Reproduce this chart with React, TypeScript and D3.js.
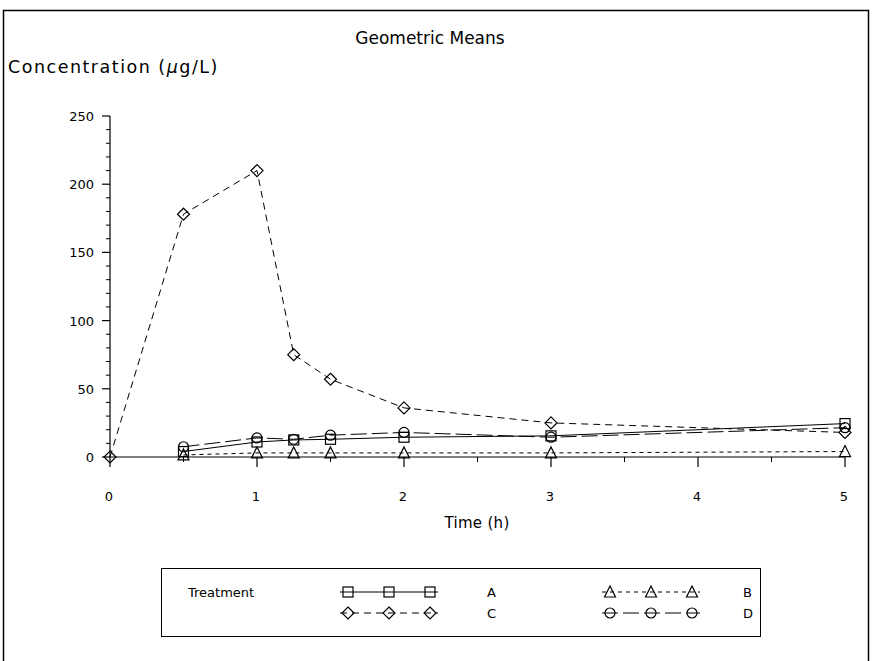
import React from "react";
import * as d3 from "d3";

const timesC = [0, 0.5, 1, 1.25, 1.5, 2, 3, 5];
const timesABD = [0.5, 1, 1.25, 1.5, 2, 3, 5];
const seriesA = [4, 11, 12.5, 13, 14.5, 15.5, 24.5];
const seriesB = [1.5, 3, 3, 3, 3, 3, 4];
const seriesC = [0, 178, 210, 75, 57, 36, 25, 18];
const seriesD = [7.5, 14, 13, 16, 18, 14.5, 21.5];
const xTicks = [0, 1, 2, 3, 4, 5];
const yTicks = [0, 50, 100, 150, 200, 250];
const labels = { A: "A", B: "B", C: "C", D: "D" };

const FONT = "'DejaVu Sans', 'Noto Sans', sans-serif";

type Key = "A" | "B" | "C" | "D";
const styles: Record<Key, { dash: string; marker: string }> = {
  A: { dash: "", marker: "square" },
  B: { dash: "4,4", marker: "triangle" },
  C: { dash: "7,5", marker: "diamond" },
  D: { dash: "16,5", marker: "circle" },
};

function Marker({ type, x, y }: { type: string; x: number; y: number }) {
  const common = { fill: "none", stroke: "#000", strokeWidth: 1.2 };
  if (type === "square") return <rect x={x - 5} y={y - 5} width={10} height={10} {...common} />;
  if (type === "circle") return <circle cx={x} cy={y} r={5} {...common} />;
  if (type === "diamond")
    return <path d={`M${x},${y - 6}L${x + 6},${y}L${x},${y + 6}L${x - 6},${y}Z`} {...common} />;
  return <path d={`M${x},${y - 6}L${x + 5.5},${y + 5}L${x - 5.5},${y + 5}Z`} {...common} />;
}

export default function App() {
  const x = d3.scaleLinear().domain([0, 5]).range([110, 845]);
  const y = d3.scaleLinear().domain([0, 250]).range([457, 116]);
  const line = d3.line<[number, number]>().x((d) => x(d[0])).y((d) => y(d[1]));

  const data: { key: Key; pts: [number, number][] }[] = [
    { key: "A", pts: timesABD.map((t, i) => [t, seriesA[i]]) },
    { key: "B", pts: timesABD.map((t, i) => [t, seriesB[i]]) },
    { key: "C", pts: timesC.map((t, i) => [t, seriesC[i]]) },
    { key: "D", pts: timesABD.map((t, i) => [t, seriesD[i]]) },
  ];

  const yMinor = d3.range(0, 251, 10).filter((v) => v % 50 !== 0);
  const xMinor = d3.range(0.5, 5, 1);

  const legendItems: { key: Key; x0: number; y0: number; lx: number }[] = [
    { key: "A", x0: 348, y0: 592, lx: 487 },
    { key: "B", x0: 610, y0: 592, lx: 743 },
    { key: "C", x0: 348, y0: 613, lx: 487 },
    { key: "D", x0: 610, y0: 613, lx: 743 },
  ];

  return (
    <svg
      width={872}
      height={661}
      style={{ position: "absolute", left: 0, top: 0, background: "#fff" }}
      fontFamily={FONT}
    >
      <rect x={3.5} y={10.5} width={865} height={680} fill="none" stroke="#000" strokeWidth={1.5} />
      <text x={430} y={44} textAnchor="middle" fontSize={17} fill="#000">
        Geometric Means
      </text>
      <text x={8} y={73} fontSize={17.5} letterSpacing={1.5} fill="#000">
        Concentration (<tspan fontStyle="italic">μ</tspan>g/L)
      </text>

      {/* y axis */}
      <line x1={x(0)} x2={x(0)} y1={y(0)} y2={y(250)} stroke="#000" strokeWidth={1.2} />
      {yTicks.map((v) => (
        <g key={v}>
          <line x1={x(0) - 8} x2={x(0)} y1={y(v)} y2={y(v)} stroke="#000" strokeWidth={1.2} />
          <text x={94} y={y(v) + 5} textAnchor="end" fontSize={13} fill="#000">
            {v}
          </text>
        </g>
      ))}
      {yMinor.map((v) => (
        <line key={v} x1={x(0) - 4} x2={x(0)} y1={y(v)} y2={y(v)} stroke="#000" strokeWidth={1} />
      ))}

      {/* x axis */}
      <line x1={x(0)} x2={x(5)} y1={y(0)} y2={y(0)} stroke="#000" strokeWidth={1.2} />
      {xTicks.map((v) => (
        <g key={v}>
          <line x1={x(v)} x2={x(v)} y1={y(0)} y2={y(0) + 10} stroke="#000" strokeWidth={1.2} />
          <text x={x(v) - 1} y={501} textAnchor="middle" fontSize={13} fill="#000">
            {v}
          </text>
        </g>
      ))}
      {xMinor.map((v) => (
        <line key={v} x1={x(v)} x2={x(v)} y1={y(0)} y2={y(0) + 5} stroke="#000" strokeWidth={1} />
      ))}
      <text x={477} y={528} textAnchor="middle" fontSize={15} letterSpacing={0.3} fill="#000">
        Time (h)
      </text>

      {/* series */}
      {data.map((s) => (
        <g key={s.key}>
          <path
            d={line(s.pts) || ""}
            fill="none"
            stroke="#000"
            strokeWidth={1}
            strokeDasharray={styles[s.key].dash}
          />
          {s.pts.map((p, i) => (
            <Marker key={i} type={styles[s.key].marker} x={x(p[0])} y={y(p[1])} />
          ))}
        </g>
      ))}

      {/* legend */}
      <rect x={161.5} y={568.5} width={599} height={68} fill="none" stroke="#000" strokeWidth={1} />
      <text x={188} y={597} fontSize={13} fill="#000">
        Treatment
      </text>
      {legendItems.map((it) => (
        <g key={it.key}>
          <line
            x1={it.x0 - 8}
            x2={it.x0 + 90}
            y1={it.y0}
            y2={it.y0}
            stroke="#000"
            strokeWidth={1}
            strokeDasharray={styles[it.key].dash}
          />
          {[0, 41, 82].map((dx) => (
            <Marker key={dx} type={styles[it.key].marker} x={it.x0 + dx} y={it.y0} />
          ))}
          <text x={it.lx} y={it.y0 + 5} fontSize={13} fill="#000">
            {labels[it.key]}
          </text>
        </g>
      ))}
    </svg>
  );
}
